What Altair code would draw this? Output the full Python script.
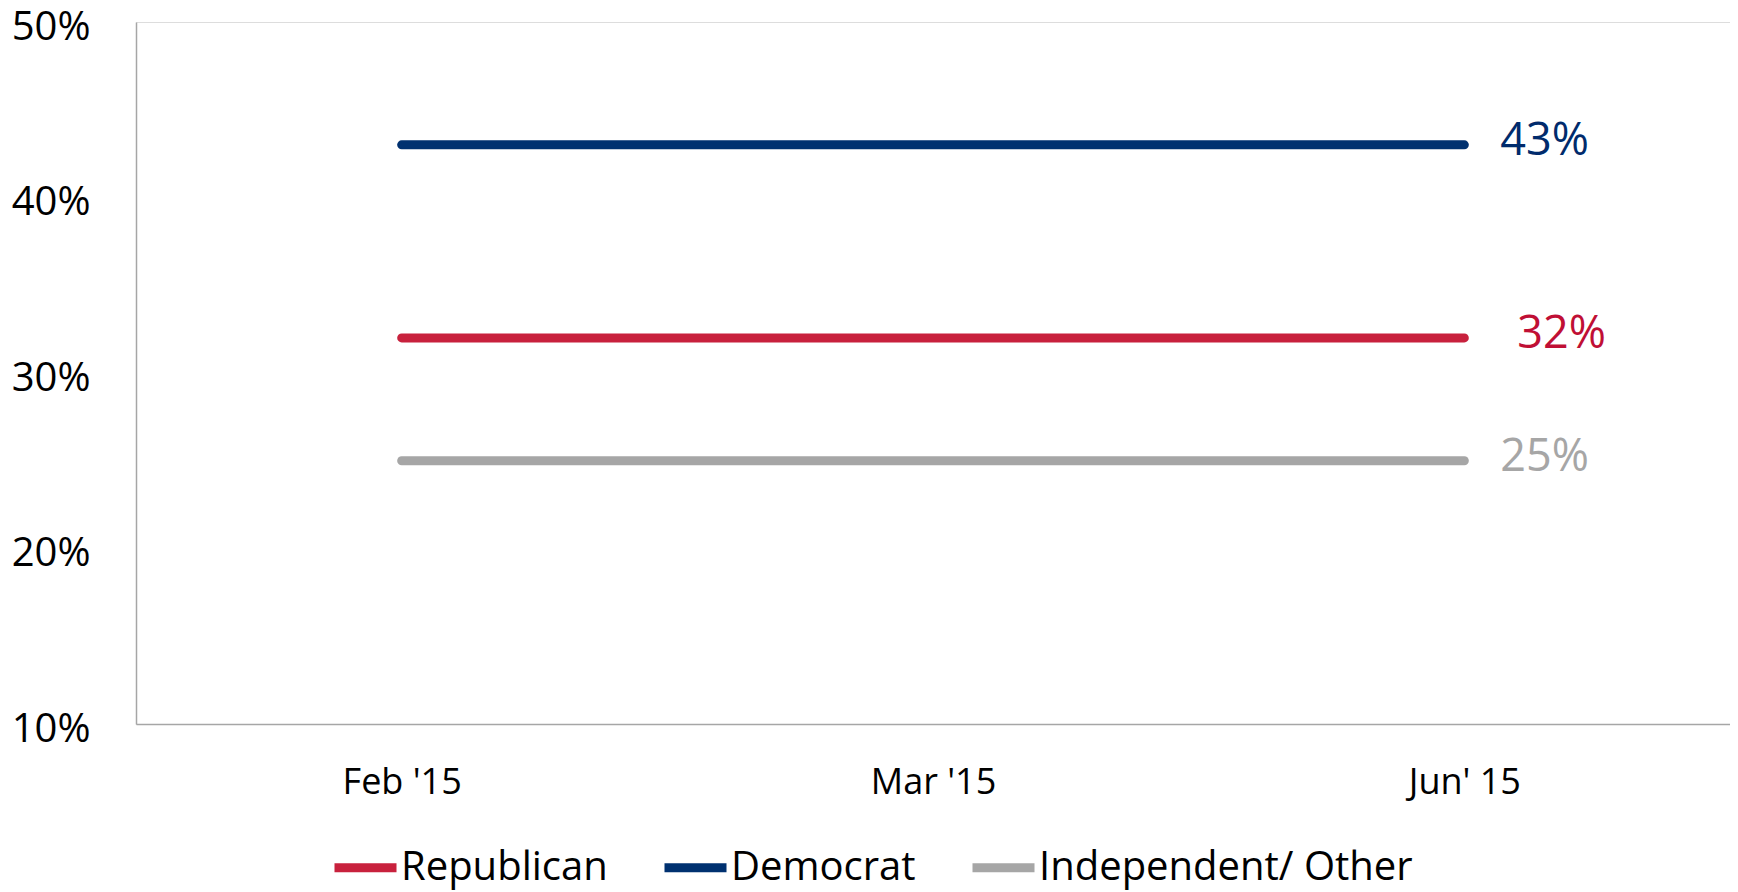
import altair as alt
import pandas as pd

months = ["Feb '15", "Mar '15", "Jun' 15"]
series = ["Republican", "Democrat", "Independent/ Other"]
republican = [0.32, 0.32, 0.32]
democrat = [0.43, 0.43, 0.43]
independent = [0.25, 0.25, 0.25]
y_ticks = [0.1, 0.2, 0.3, 0.4, 0.5]

line_colors = ["#C8213D", "#003170", "#A6A6A6"]
label_colors = ["#C00F35", "#002B6C", "#A6A6A6"]
label_dx = [53, 36, 36]

rows = []
for s, vals in zip(series, [republican, democrat, independent]):
    for m, v in zip(months, vals):
        rows.append({"month": m, "series": s, "value": v})
df = pd.DataFrame(rows)

FONT = "Open Sans"
GRAY = "#A6A6A6"

x_enc = alt.X(
    "month:N",
    sort=months,
    scale=alt.Scale(type="point", padding=0.5, domain=months),
    axis=alt.Axis(
        title=None, ticks=False, tickSize=0, labelPadding=41, labelFontSize=36,
        labelAngle=0, labelColor="black", labelFont=FONT,
        domainColor=GRAY, domainWidth=1.5, grid=False,
    ),
)
y_enc = alt.Y(
    "value:Q",
    scale=alt.Scale(domain=[0.1, 0.5], nice=False, zero=False),
    axis=alt.Axis(
        values=y_ticks, format=".0%", title=None, ticks=False, tickSize=0,
        labelPadding=46, labelFontSize=40, labelColor="black", labelFont=FONT,
        grid=False, domainColor=GRAY, domainWidth=1.5, labelOffset=5,
    ),
)

lines = alt.Chart(df).mark_line(strokeWidth=9, strokeCap="round").encode(
    x=x_enc,
    y=y_enc,
    color=alt.Color(
        "series:N",
        sort=series,
        scale=alt.Scale(domain=series, range=line_colors),
        legend=alt.Legend(
            title=None, orient="none", legendX=194, legendY=810,
            direction="horizontal", symbolType="stroke", symbolSize=3844,
            symbolStrokeWidth=9, labelFontSize=40, labelFont=FONT,
            labelColor="black", labelOffset=0, columnPadding=38, padding=0,
            labelLimit=600,
        ),
    ),
)

layers = [lines]
for s, c, dx in zip(series, label_colors, label_dx):
    t = (
        alt.Chart(df)
        .transform_filter((alt.datum.series == s) & (alt.datum.month == months[-1]))
        .mark_text(align="left", baseline="middle", dx=dx, dy=-4, fontSize=45,
                   font=FONT, color=c)
        .encode(
            x=alt.X("month:N", sort=months),
            y=alt.Y("value:Q"),
            text=alt.Text("value:Q", format=".0%"),
        )
    )
    layers.append(t)

chart = (
    alt.layer(*layers)
    .properties(
        width=1594,
        height=702,
        autosize=alt.AutoSizeParams(type="none"),
        padding={"left": 128, "top": 14, "right": 0, "bottom": 172},
    )
    .configure_view(stroke=None)
    .configure(font=FONT)
)

chart.save("out.html", embed_options={"renderer": "svg", "actions": False})
